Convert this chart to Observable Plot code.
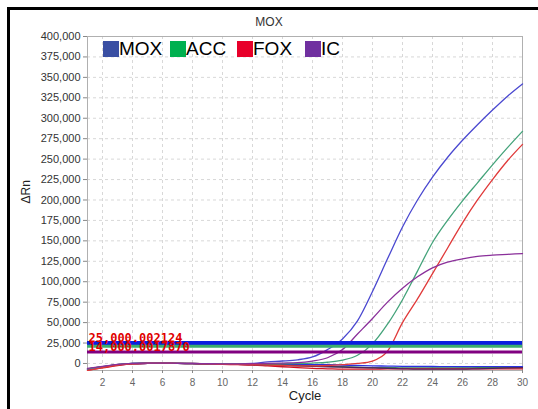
<!DOCTYPE html>
<html>
<head>
<meta charset="utf-8">
<script src="https://cdn.jsdelivr.net/npm/d3@7"></script>
<script src="https://cdn.jsdelivr.net/npm/@observablehq/plot@0.6"></script>
<style>
  html, body { margin: 0; padding: 0; background: #fff; }
  #wrap { position: relative; width: 538px; height: 409px; overflow: hidden; font-family: "Liberation Sans", Arial, sans-serif; }
  #border { position: absolute; left: 7px; top: 7px; width: 600px; height: 500px; border-top: 3px solid #000; border-left: 3px solid #000; pointer-events: none; }
  #title { position: absolute; left: 0; width: 538px; top: 15px; text-align: center; font-size: 12px; color: #333; }
  #legend { position: absolute; left: 103px; top: 38px; height: 22px; font-size: 19px; color: #000; }
  #legend .item { position: absolute; top: 0; display: flex; align-items: center; }
  #legend .sw { width: 16px; height: 16px; margin-right: 0px; }
  #chart { position: absolute; left: 0; top: 0; }
</style>
</head>
<body>
<div id="wrap">
  <div id="chart"></div>
  <div id="title"></div>
  <div id="legend"></div>
  <div id="border"></div>
</div>
<script>
// ---- data ----
const cycles = [1,2,3,4,5,6,7,8,9,10,11,12,13,14,15,16,17,18,19,20,21,22,23,24,25,26,27,28,29,30];
const mox = [-7000,-4000,-1500,0,500,500,200,0,-300,-500,-500,0,2000,3000,4500,8000,17000,30000,52000,88000,128000,167000,200000,228000,252000,273000,292000,310000,327000,342000];
const acc = [-6500,-4000,-1500,0,500,500,200,0,-300,-500,-500,-500,-500,-300,0,500,1500,4000,10000,24000,48000,78000,113000,148000,175000,199000,221000,243000,264000,284000];
const fox = [-8400,-5000,-2000,-500,500,500,200,0,-500,-1000,-1000,-1500,-2000,-2500,-3000,-3000,-2500,-1500,0,3000,15000,50000,79000,110000,141000,172000,200000,225000,248000,268000];
const ic  = [-6000,-3500,-1200,0,500,500,200,0,-300,-500,-500,-300,0,500,1000,3000,7000,17000,36000,55000,75000,92000,106000,117000,124000,128000,131000,132500,133500,134500];
const moxNtc = [-7500,-4500,-2000,-500,0,200,0,-300,-500,-700,-800,-1000,-1000,-1200,-1500,-1500,-1500,-2000,-2500,-3000,-3200,-3500,-3500,-3700,-3800,-4000,-4000,-4000,-4000,-4000];
const foxNtc = [-8300,-5500,-2500,-500,0,200,0,-300,-500,-1000,-1500,-2000,-3000,-4000,-5000,-6000,-6500,-7000,-7000,-7000,-6500,-6500,-6500,-6500,-6500,-6500,-6500,-6500,-6500,-6500];
const icNtc = [-6500,-4000,-1500,0,300,300,100,-200,-500,-800,-1000,-1500,-2000,-2500,-3000,-3500,-4000,-4500,-5000,-5500,-6000,-6500,-7000,-7000,-7000,-7000,-6500,-6000,-5500,-5000];
const accNtc = [-7000,-4200,-1800,-300,200,300,100,-200,-400,-600,-800,-1000,-1500,-2000,-2500,-3000,-3500,-4000,-4500,-5000,-5000,-5500,-5500,-5500,-5500,-5500,-5200,-5000,-5000,-5000];

const targets = ["MOX", "ACC", "FOX", "IC"];
const legendColors = ["#3a4fa3", "#00b050", "#e8002a", "#7030a0"];
const curveColors = ["#4a48d0", "#44a37a", "#e03a3a", "#8a2f9a"];
const ntcColors = ["#2a30e0", "#3a7a60", "#d01020", "#50205a"];

const thresholds = [25000, 21000, 14000];
const thresholdColors = ["#0a1ee0", "#3cae6e", "#800080"];
const thresholdWidths = [4, 3, 3];
const thresholdLabelValues = [25000, 14000];
const thresholdLabels = ["25,000.002124", "14,000.0017870"];

const xTicks = [2,4,6,8,10,12,14,16,18,20,22,24,26,28,30];
const yTicks = [0,25000,50000,75000,100000,125000,150000,175000,200000,225000,250000,275000,300000,325000,350000,375000,400000];

// ---- build tables ----
const series = [mox, acc, fox, ic];
const ntcSeries = [moxNtc, accNtc, foxNtc, icNtc];
const curves = [];
series.forEach((s, i) => s.forEach((v, j) => curves.push({target: targets[i], cycle: cycles[j], value: v})));
const ntc = [];
ntcSeries.forEach((s, i) => s.forEach((v, j) => ntc.push({target: targets[i], cycle: cycles[j], value: v})));

const thr = thresholds.map((v, i) => ({value: v, color: thresholdColors[i], w: thresholdWidths[i]}));
const thrLab = thresholdLabelValues.map((v, i) => ({value: v, label: thresholdLabels[i]}));

const marks = [
  Plot.ruleX(xTicks, {x: d => d, stroke: "#d8d8d8", strokeDasharray: "3,3"}),
  Plot.ruleY(yTicks, {y: d => d, stroke: "#d8d8d8", strokeDasharray: "3,3"}),
  Plot.frame({stroke: "#b0b0b0"}),
];
targets.forEach((t, i) => {
  marks.push(Plot.line(ntc.filter(d => d.target === t), {x: "cycle", y: "value", stroke: ntcColors[i], strokeWidth: 1.3, curve: "monotone-x"}));
});
targets.forEach((t, i) => {
  marks.push(Plot.line(curves.filter(d => d.target === t), {x: "cycle", y: "value", stroke: curveColors[i], strokeWidth: 1.3, curve: "monotone-x"}));
});
thr.forEach(d => {
  marks.push(Plot.ruleY([d.value], {y: v => v, stroke: d.color, strokeWidth: d.w}));
});
marks.push(
  Plot.text(thrLab, {x: () => 1, y: "value", text: "label", textAnchor: "start", lineAnchor: "bottom", dx: 1, dy: -1,
    fill: "#e00000", fontWeight: "bold", fontFamily: "DejaVu Sans Mono", fontSize: 12}),
  Plot.axisY({ticks: yTicks, tickFormat: d3.format(","), tickSize: 4, tickPadding: 3, fontSize: 11, fill: "#333", stroke: "#888", label: null}),
  Plot.axisX({ticks: xTicks, tickFormat: d => String(d), tickSize: 3, tickPadding: 5, fontSize: 10, fill: "#666", stroke: "#888", label: null}),
  Plot.text(["Cycle"], {frameAnchor: "bottom", dy: 29, text: d => d, fontSize: 13, fill: "#222"}),
  Plot.text(["ΔRn"], {frameAnchor: "left", dx: -61, rotate: -90, text: d => d, fontSize: 12, fill: "#222"})
);

const chart = Plot.plot({
  width: 538, height: 409,
  marginLeft: 87, marginRight: 16, marginTop: 36, marginBottom: 39,
  x: {domain: [1, 30]},
  y: {domain: [-8600, 400000]},
  style: {fontFamily: "Liberation Sans, Arial, sans-serif", background: "#fff"},
  marks
});
document.getElementById("chart").appendChild(chart);

document.getElementById("title").textContent = "MOX";
const legend = document.getElementById("legend");
const legendX = [0, 67, 134, 202];
targets.forEach((t, i) => {
  const it = document.createElement("div");
  it.className = "item";
  it.style.left = legendX[i] + "px";
  const sw = document.createElement("div");
  sw.className = "sw";
  sw.style.background = legendColors[i];
  const lb = document.createElement("span");
  lb.textContent = t;
  it.appendChild(sw); it.appendChild(lb);
  legend.appendChild(it);
});
</script>
</body>
</html>
